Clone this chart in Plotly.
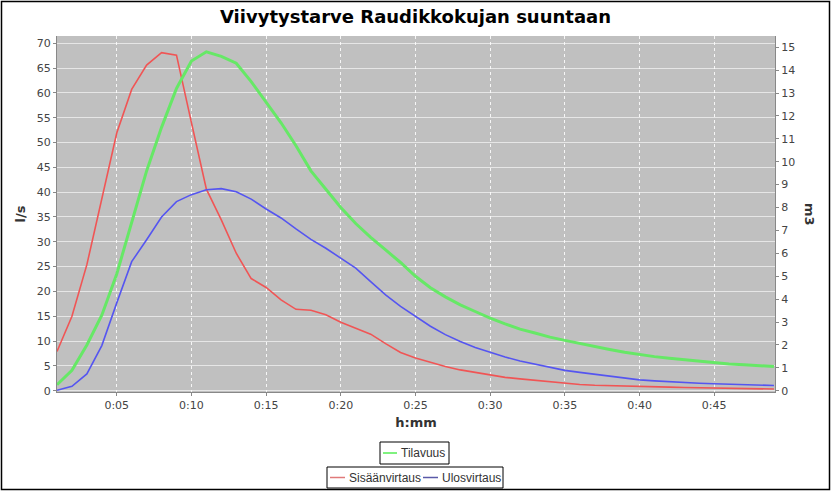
import plotly.graph_objects as go

# minutes from start
minutes = list(range(1, 50))

# inflow (l/s)
sisaanvirtaus = [7.9, 15.0, 25.4, 38.5, 51.9, 60.7, 65.6, 68.1, 67.6, 54.0,
                 40.6, 34.4, 27.7, 22.6, 20.8, 18.3, 16.4, 16.2, 15.3, 13.8,
                 12.6, 11.4, 9.5, 7.7, 6.6, 5.7, 4.9, 4.2, 3.7, 3.1,
                 2.7, 2.4, 2.1, 1.8, 1.4, 1.25, 1.1, 1.0, 0.93, 0.87,
                 0.8, 0.73, 0.67, 0.6, 0.55, 0.5, 0.45, 0.4, 0.35]

# outflow (l/s)
ulosvirtaus = [0.1, 0.9, 3.4, 9.1, 17.7, 26.0, 30.4, 35.0, 38.1, 39.5,
               40.5, 40.7, 40.1, 38.6, 36.6, 34.8, 32.6, 30.5, 28.7, 26.7,
               24.7, 22.0, 19.3, 17.0, 15.0, 13.0, 11.3, 9.9, 8.7, 7.7,
               6.8, 6.0, 5.4, 4.8, 4.1, 3.7, 3.3, 2.9, 2.5, 2.2,
               2.0, 1.8, 1.65, 1.5, 1.4, 1.3, 1.2, 1.13, 1.07]

# storage volume (m3)
tilavuus = [0.26, 0.89, 2.0, 3.3, 5.1, 7.3, 9.6, 11.5, 13.2, 14.4,
            14.8, 14.6, 14.3, 13.5, 12.6, 11.7, 10.7, 9.6, 8.8, 8.0,
            7.3, 6.7, 6.15, 5.6, 5.0, 4.5, 4.1, 3.75, 3.46, 3.17,
            2.92, 2.69, 2.52, 2.34, 2.2, 2.06, 1.93, 1.8, 1.68, 1.57,
            1.49, 1.42, 1.35, 1.28, 1.21, 1.17, 1.13, 1.09, 1.06]

tick_vals = [5, 10, 15, 20, 25, 30, 35, 40, 45]
tick_text = ["0:05", "0:10", "0:15", "0:20", "0:25", "0:30", "0:35", "0:40", "0:45"]

W, H = 831, 491
L, R, T, B = 57, 56, 36, 99
pw, ph = W - L - R, H - T - B

font = "DejaVu Sans"
tick_col = "#444444"
red, blue, green = "#f05555", "#5555f0", "#66e866"


def px(x):
    return (x - L) / pw


def py(y):
    return (H - B - y) / ph


fig = go.Figure()

fig.add_trace(go.Scatter(x=minutes, y=tilavuus, name="Tilavuus", yaxis="y2",
                         mode="lines", line=dict(color=green, width=3)))
fig.add_trace(go.Scatter(x=minutes, y=sisaanvirtaus, name="Sisäänvirtaus",
                         mode="lines", line=dict(color=red, width=1.6)))
fig.add_trace(go.Scatter(x=minutes, y=ulosvirtaus, name="Ulosvirtaus",
                         mode="lines", line=dict(color=blue, width=1.6)))

fig.update_layout(
    width=W, height=H,
    margin=dict(l=L, r=R, t=T, b=B),
    paper_bgcolor="white",
    plot_bgcolor="#c0c0c0",
    showlegend=False,
    font=dict(family=font, size=11, color=tick_col),
    title=dict(text="<b>Viivytystarve Raudikkokujan suuntaan</b>",
               x=0.5, xanchor="center", y=0.967, yanchor="middle",
               font=dict(family=font, size=18, color="black")),
    xaxis=dict(range=[1, 49.07], tickvals=tick_vals, ticktext=tick_text,
               showgrid=True, gridcolor="rgba(255,255,255,0.85)", griddash="dot",
               gridwidth=1, zeroline=False, showline=True, linecolor="#888888",
               ticks="outside", ticklen=3, tickcolor="#888888",
               title=dict(text="<b>h:mm</b>", font=dict(size=13, color="#333333"),
                          standoff=6)),
    yaxis=dict(range=[-0.25, 71.45], dtick=5, tick0=0,
               showgrid=True, gridcolor="rgba(255,255,255,0.6)", gridwidth=1,
               zeroline=False, showline=True, linecolor="#888888",
               ticks="outside", ticklen=3, tickcolor="#888888",
               title=dict(text="<b>l/s</b>", font=dict(size=13, color="#333333"),
                          standoff=8)),
    yaxis2=dict(range=[-0.055, 15.49], dtick=1, tick0=0, overlaying="y",
                side="right", showgrid=False, zeroline=False, showline=True,
                linecolor="#888888", ticks="outside", ticklen=3,
                tickcolor="#888888"),
)

# right axis title, reading downward
fig.add_annotation(text="<b>m3</b>", xref="paper", yref="paper",
                   x=px(810), y=0.5, xanchor="center", yanchor="middle",
                   showarrow=False, textangle=90,
                   font=dict(family=font, size=13, color="#333333"))

# legend: two boxes, drawn by hand (pixel layout of the original)
legend_rows = [
    ((380, 449, 442, 464), [("Tilavuus", "#55ee55", 383, 397)]),
    ((327, 503, 467, 488), [("Sisäänvirtaus", "#e07a7a", 330, 345),
                            ("Ulosvirtaus", "#5a5aa8", 423, 438)]),
]
for (x0, x1, y0, y1), items in legend_rows:
    fig.add_shape(type="rect", xref="paper", yref="paper",
                  x0=px(x0), x1=px(x1), y0=py(y1), y1=py(y0),
                  line=dict(color="black", width=1), fillcolor="white")
    yc = (y0 + y1) / 2
    for name, col, lx0, lx1 in items:
        fig.add_shape(type="line", xref="paper", yref="paper",
                      x0=px(lx0), x1=px(lx1), y0=py(yc), y1=py(yc),
                      line=dict(color=col, width=1.5))
        fig.add_annotation(text=name, xref="paper", yref="paper",
                           x=px(lx1 + 2), y=py(yc), xanchor="left",
                           yanchor="middle", showarrow=False,
                           font=dict(family="Liberation Sans", size=12,
                                     color="#333333"))

# outer frame of the image
fig.add_shape(type="rect", xref="paper", yref="paper",
              x0=px(1.5), x1=px(829.5), y0=py(489.5), y1=py(1.5),
              line=dict(color="black", width=1.5), fillcolor="rgba(0,0,0,0)",
              layer="above")

fig.write_html("out.html", config={"displayModeBar": False},
               post_script="document.body.style.margin='0';")
